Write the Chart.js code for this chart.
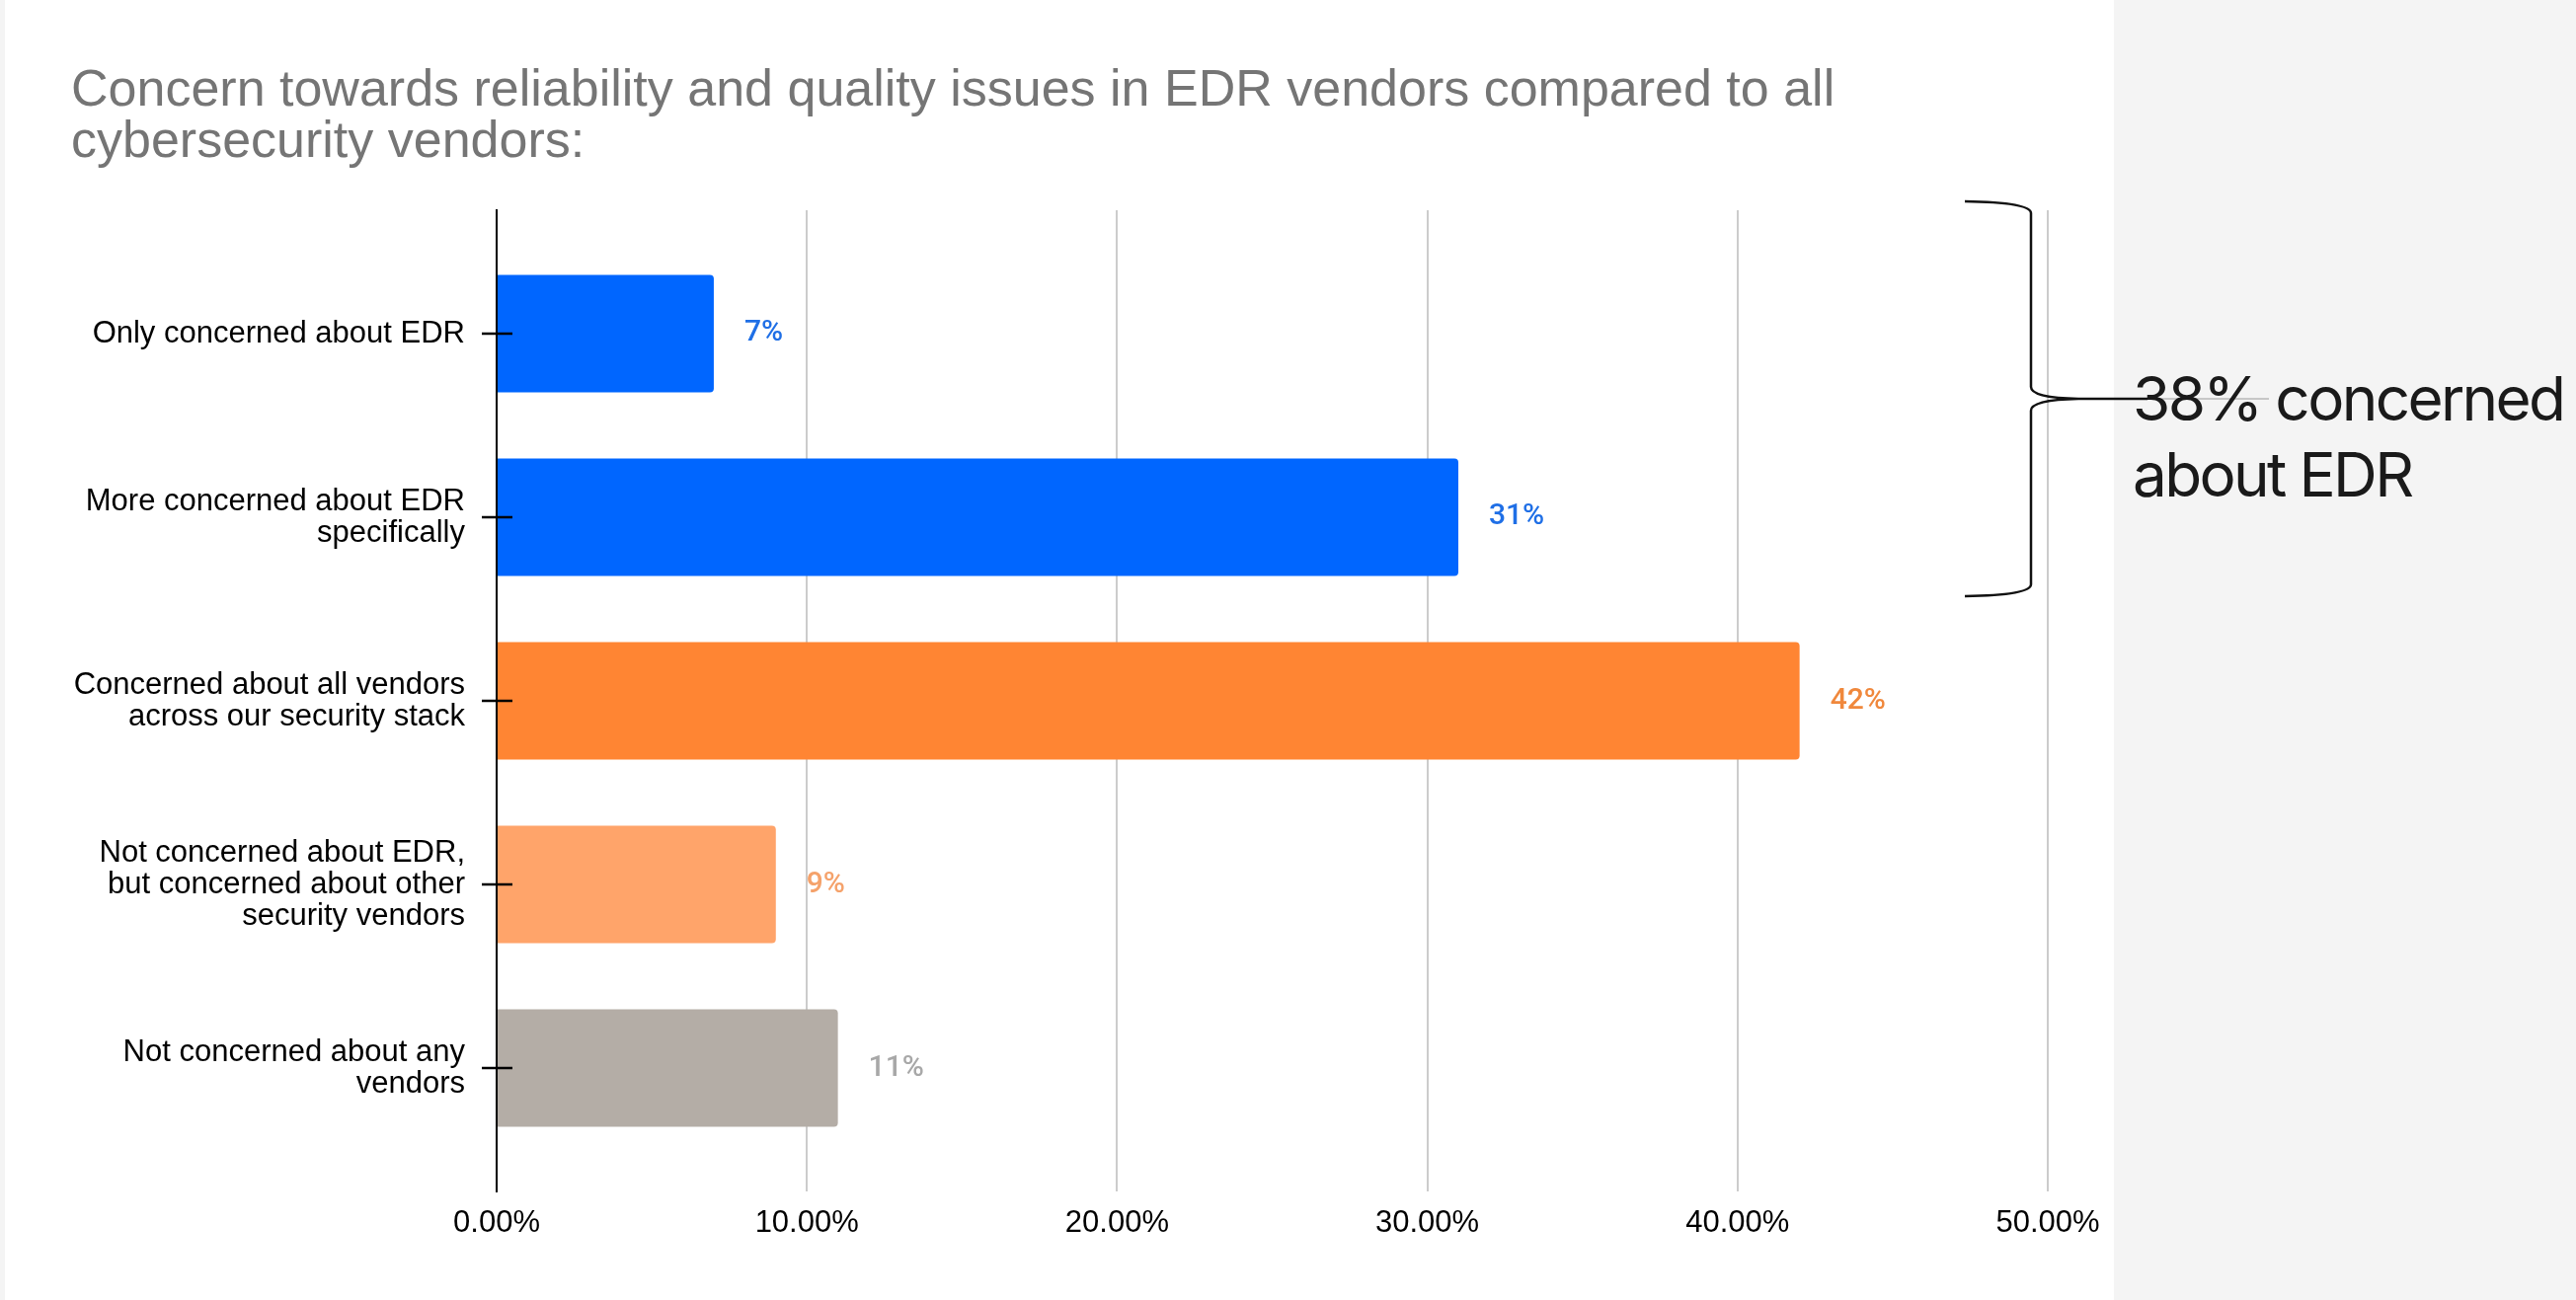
<!DOCTYPE html>
<html>
<head>
<meta charset="utf-8">
<script src="https://cdn.jsdelivr.net/npm/chart.js@4.4.1/dist/chart.umd.min.js"></script>
<style>
  html, body { margin: 0; padding: 0; }
  body { width: 2609px; height: 1317px; background: #f4f4f4; position: relative; overflow: hidden; }
  #panel { position: absolute; left: 5px; top: 0; width: 2136px; height: 1317px; background: #ffffff; }
  #wrap { position: absolute; left: 0; top: 0; width: 2609px; height: 1317px; }
</style>
</head>
<body>
<div id="panel"></div>
<div id="wrap"><canvas id="chart"></canvas></div>
<script>
const titleLines = [
    'Concern towards reliability and quality issues in EDR vendors compared to all',
    'cybersecurity vendors:'
];
const categories = [
    ['Only concerned about EDR'],
    ['More concerned about EDR', 'specifically'],
    ['Concerned about all vendors', 'across our security stack'],
    ['Not concerned about EDR,', 'but concerned about other', 'security vendors'],
    ['Not concerned about any', 'vendors']
];
const values = [7, 31, 42, 9, 11];
const barColors = ['#0066ff', '#0066ff', '#ff8533', '#ffa46a', '#b4ada6'];
const labelColors = ['#1f6fe6', '#1f6fe6', '#f0883c', '#f5a26b', '#a8a8a8'];
const xTicks = [0, 10, 20, 30, 40, 50];
const bracketText = ['38% concerned', 'about EDR'];

// value labels to the right of each bar
const valueLabels = {
    id: 'valueLabels',
    afterDatasetsDraw(chart) {
        const ctx = chart.ctx;
        const meta = chart.getDatasetMeta(0);
        ctx.save();
        ctx.font = '500 30px Roboto';
        ctx.textBaseline = 'middle';
        ctx.textAlign = 'left';
        meta.data.forEach((bar, i) => {
            ctx.fillStyle = labelColors[i];
            ctx.fillText(values[i] + '%', bar.x + 31, bar.y);
        });
        ctx.restore();
    }
};

// tick marks crossing the category axis, drawn above the bars
const crossTicks = {
    id: 'crossTicks',
    afterDatasetsDraw(chart) {
        const ctx = chart.ctx;
        const y = chart.scales.y;
        const x0 = chart.scales.x.getPixelForValue(0);
        ctx.save();
        ctx.strokeStyle = '#000';
        ctx.lineWidth = 2.5;
        categories.forEach((c, i) => {
            const py = Math.round(y.getPixelForValue(i));
            ctx.beginPath();
            ctx.moveTo(x0 - 15, py);
            ctx.lineTo(x0 + 16, py);
            ctx.stroke();
        });
        ctx.restore();
    }
};

// curly brace + note for the first two rows
const bracket = {
    id: 'bracket',
    afterDraw(chart) {
        const ctx = chart.ctx;
        const y = chart.scales.y;
        const top = y.getPixelForValue(-0.72);
        const bot = y.getPixelForValue(1.43);
        const mid = (top + bot) / 2;
        const xl = 1990, xv = 2057;
        ctx.save();
        ctx.strokeStyle = '#111';
        ctx.lineWidth = 2.5;
        ctx.beginPath();
        ctx.moveTo(xl, top);
        ctx.quadraticCurveTo(xv, top + 1, xv, top + 12);
        ctx.lineTo(xv, mid - 12);
        ctx.quadraticCurveTo(xv, mid - 1, xv + 48, mid);
        ctx.lineTo(2175, mid);
        ctx.moveTo(xv + 48, mid);
        ctx.quadraticCurveTo(xv, mid + 1, xv, mid + 12);
        ctx.lineTo(xv, bot - 12);
        ctx.quadraticCurveTo(xv, bot - 1, xl, bot);
        ctx.stroke();
        ctx.strokeStyle = '#9a9a9a';
        ctx.lineWidth = 1;
        ctx.beginPath();
        ctx.moveTo(2175, mid);
        ctx.lineTo(2298, mid);
        ctx.stroke();

        ctx.fillStyle = '#1a1a1a';
        ctx.font = '62px Inter';
        ctx.textBaseline = 'alphabetic';
        ctx.textAlign = 'left';
        // tighten the tracking so the first line is about 439px wide
        const w = ctx.measureText(bracketText[0]).width;
        ctx.letterSpacing = ((439 - w) / (bracketText[0].length - 1)).toFixed(2) + 'px';
        ctx.fillText(bracketText[0], 2160, 426);
        ctx.fillText(bracketText[1], 2160, 503);
        ctx.restore();
    }
};

const ctx = document.getElementById('chart').getContext('2d');
new Chart(ctx, {
    type: 'bar',
    data: {
        datasets: [{
            data: values.map((v, i) => ({ x: v, y: i })),
            backgroundColor: barColors,
            borderRadius: 4,
            borderSkipped: 'start',
            categoryPercentage: 1,
            barPercentage: 0.64
        }]
    },
    options: {
        indexAxis: 'y',
        responsive: true,
        maintainAspectRatio: false,
        animation: false,
        layout: { padding: { left: 72, right: 535, top: 0, bottom: 0 } },
        plugins: {
            legend: { display: false },
            tooltip: { enabled: false },
            title: {
                display: true,
                text: titleLines,
                align: 'start',
                color: '#757575',
                font: { family: 'Liberation Sans, Arial', size: 52, weight: 'normal', lineHeight: '52px' },
                padding: { top: 67, bottom: 42 }
            }
        },
        scales: {
            x: {
                type: 'linear',
                min: 0,
                max: 50,
                afterBuildTicks: s => { s.ticks = xTicks.map(v => ({ value: v })); },
                afterFit: s => { s.height = 110; },
                grid: {
                    color: c => c.tick && c.tick.value === 0 ? 'rgba(0,0,0,0)' : '#cccccc',
                    lineWidth: 2,
                    drawTicks: false
                },
                border: { display: false },
                ticks: {
                    color: '#000',
                    padding: 14,
                    font: { family: 'Liberation Sans, Arial', size: 31 },
                    callback: v => v.toFixed(2) + '%'
                }
            },
            y: {
                type: 'linear',
                reverse: true,
                offset: false,
                min: -0.672,
                max: 4.672,
                afterBuildTicks: s => { s.ticks = categories.map((c, i) => ({ value: i })); },
                afterFit: s => { s.width = 431; },
                grid: { offset: false, drawOnChartArea: false, drawTicks: false },
                border: { display: true, color: '#000', width: 2 },
                ticks: {
                    autoSkip: false,
                    color: '#000',
                    padding: 32,
                    font: { family: 'Liberation Sans, Arial', size: 31, lineHeight: '32px' },
                    callback: v => categories[v]
                }
            }
        }
    },
    plugins: [valueLabels, crossTicks, bracket]
});
</script>
</body>
</html>
